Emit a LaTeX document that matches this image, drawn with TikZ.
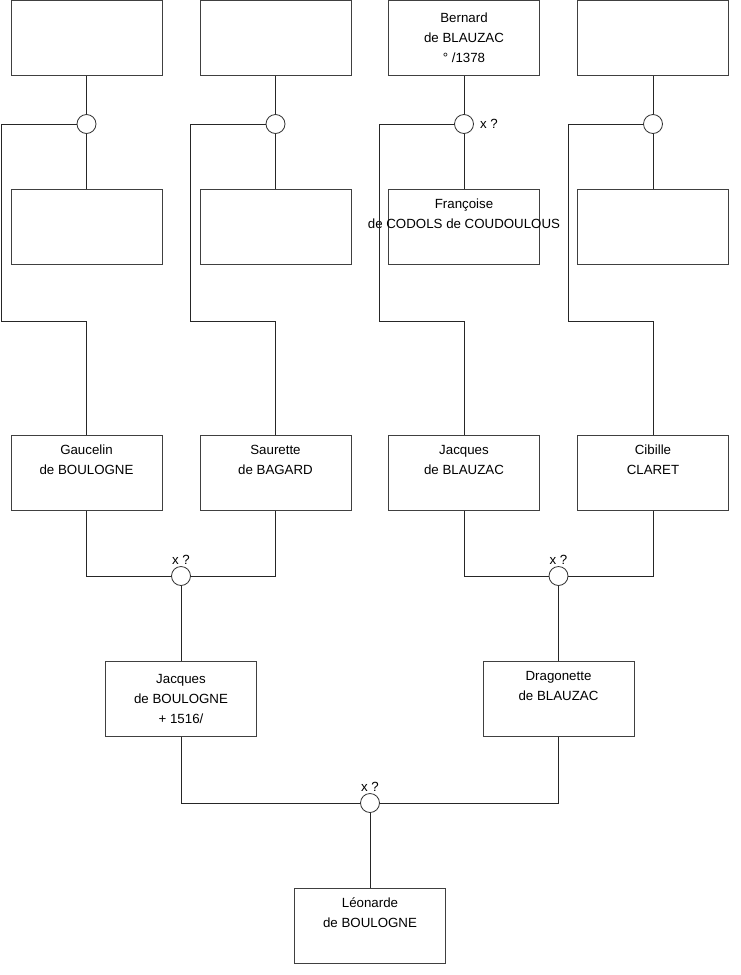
\documentclass[tikz,border=0pt]{standalone}
\usepackage{fontspec}
\setmainfont{Liberation Sans}

\begin{document}
\begin{tikzpicture}[x=1pt,y=-1pt]
	\tikzset{
		person/.style={draw=black!75,line width=0.8pt,rectangle,inner sep=0pt,
			minimum width=151pt,minimum height=75pt,align=center,
			font=\fontsize{13.3}{20}\selectfont},
		union/.style={draw=black!80,line width=0.8pt,circle,inner sep=0pt,minimum size=19pt},
		link/.style={line width=0.8pt,color=black!85},
		note/.style={font=\fontsize{13.3}{15}\selectfont,inner sep=1pt}
	}
	\useasboundingbox (0,0) rectangle (740,975);

	% arriere-grands-parents
	\node[person] (f1) at (86.5,38) {};
	\node[person] (f2) at (275.5,38) {};
	\node[person] (f3) at (464,38) {Bernard\\de BLAUZAC\\° /1378};
	\node[person] (f4) at (653,38) {};

	\node[person] (m1) at (86.5,227) {};
	\node[person] (m2) at (275.5,227) {};
	\node[person] (m3) at (464,227) {Françoise\\\makebox[0pt]{de CODOLS de COUDOULOUS}\\\strut};
	\node[person] (m4) at (653,227) {};

	\foreach \i in {1,...,4}
	\node[union] (c\i) at (f\i |- 0,124) {};
	\node[note,right,xshift=5pt] at (c3.east) {x ?};

	% grands-parents
	\node[person] (g1) at (86.5,473) {Gaucelin\\de BOULOGNE\\\strut};
	\node[person] (g2) at (275.5,473) {Saurette\\de BAGARD\\\strut};
	\node[person] (g3) at (464,473) {Jacques\\de BLAUZAC\\\strut};
	\node[person] (g4) at (653,473) {Cibille\\CLARET\\\strut};

	\foreach \i in {1,...,4}
	\draw[link] (f\i) -- (c\i) -- (m\i);
	\draw[link] (c1.west) -| (1,321) -| (g1.north);
	\draw[link] (c2.west) -| (190,321) -| (g2.north);
	\draw[link] (c3.west) -| (379,321) -| (g3.north);
	\draw[link] (c4.west) -| (568,321) -| (g4.north);

	% parents
	\node[union] (k1) at (181,576) {};
	\node[union] (k2) at (558.5,576) {};
	\node[note,above] at (k1.north) {x ?};
	\node[note,above] at (k2.north) {x ?};

	\node[person] (p1) at (181,699) {Jacques\\de BOULOGNE\\+ 1516/};
	\node[person] (p2) at (558.5,699) {Dragonette\\de BLAUZAC\\\strut};

	\draw[link] (g1) |- (k1);
	\draw[link] (g2) |- (k1);
	\draw[link] (g3) |- (k2);
	\draw[link] (g4) |- (k2);
	\draw[link] (k1) -- (p1);
	\draw[link] (k2) -- (p2);

	% enfant
	\node[union] (k3) at (370,803) {};
	\node[note,above] at (k3.north) {x ?};
	\node[person] (e) at (370,925.5) {Léonarde\\de BOULOGNE\\\strut};

	\draw[link] (p1) |- (k3);
	\draw[link] (p2) |- (k3);
	\draw[link] (k3) -- (e);

\end{tikzpicture}
\end{document}
